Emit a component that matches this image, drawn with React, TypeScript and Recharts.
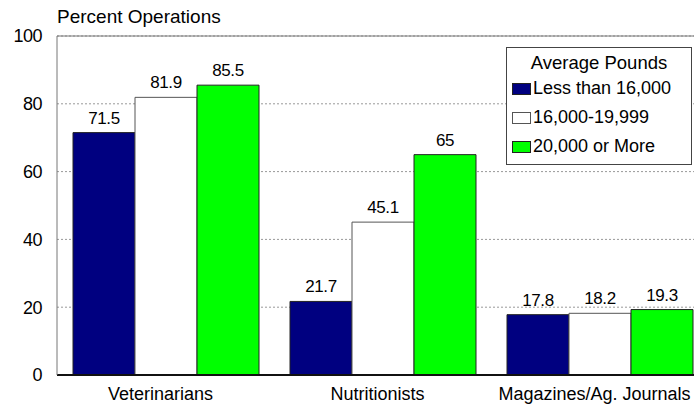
import { BarChart, Bar, XAxis, YAxis, CartesianGrid, Legend, LabelList, ReferenceLine } from 'recharts';

const categories = ['Veterinarians', 'Nutritionists', 'Magazines/Ag. Journals'];
const lessThan16k = [71.5, 21.7, 17.8];
const from16kTo19999 = [81.9, 45.1, 18.2];
const over20k = [85.5, 65, 19.3];
const yTicks = [0, 20, 40, 60, 80, 100];

const seriesInfo = [
  { key: 'low', name: 'Less than 16,000', fill: '#000080', stroke: '#222' },
  { key: 'mid', name: '16,000-19,999', fill: '#ffffff', stroke: '#555' },
  { key: 'high', name: '20,000 or More', fill: '#00ff00', stroke: '#222' },
];

const data = categories.map((name, i) => ({
  name,
  low: lessThan16k[i],
  mid: from16kTo19999[i],
  high: over20k[i],
}));

const FONT = '"Liberation Sans", Arial, sans-serif';

function LegendBox() {
  return (
    <div
      style={{
        border: '1px solid #444',
        background: '#fff',
        width: 186,
        height: 118,
        boxSizing: 'border-box',
        fontFamily: FONT,
        color: '#000',
        paddingTop: 4,
      }}
    >
      <div style={{ textAlign: 'center', fontSize: 18.5, lineHeight: '22px' }}>Average Pounds</div>
      {seriesInfo.map((s) => (
        <div key={s.key} style={{ display: 'flex', alignItems: 'center', height: 29, paddingLeft: 5 }}>
          <span
            style={{
              display: 'inline-block',
              width: 19,
              height: 12,
              background: s.fill,
              border: `1px solid ${s.stroke}`,
              boxSizing: 'border-box',
              marginRight: 2,
            }}
          />
          <span style={{ fontSize: 18 }}>{s.name}</span>
        </div>
      ))}
    </div>
  );
}

export default function App() {
  return (
    <div
      style={{
        position: 'fixed',
        left: 0,
        top: 0,
        width: 694,
        height: 404,
        overflow: 'hidden',
        background: '#fff',
        fontFamily: FONT,
      }}
    >
      <div style={{ position: 'absolute', left: 57, top: 6, fontSize: 19, color: '#000' }}>
        Percent Operations
      </div>
      <BarChart
        width={720}
        height={404}
        data={data}
        margin={{ top: 36, right: 12, left: 0, bottom: 0 }}
        barCategoryGap={16}
        barGap={0}
      >
        <CartesianGrid vertical={false} strokeDasharray="2 2" stroke="#999" />
        <XAxis
          dataKey="name"
          height={29}
          tickSize={0}
          tickMargin={12}
          axisLine={{ stroke: '#111', strokeWidth: 2 }}
          tick={{ fontSize: 18, fill: '#000', dx: -5 }}
        />
        <YAxis
          width={57}
          domain={[0, 100]}
          ticks={yTicks}
          tickSize={0}
          tickMargin={15}
          axisLine={{ stroke: '#777' }}
          tick={{ fontSize: 18, fill: '#000', letterSpacing: -0.5 }}
        />
        <ReferenceLine y={100} stroke="#777" />
        <Legend
          layout="horizontal"
          verticalAlign="middle"
          align="center"
          wrapperStyle={{ position: 'absolute', left: 506, top: 47, width: 186, height: 118 }}
          content={() => <LegendBox />}
        />
        {seriesInfo.map((s) => (
          <Bar
            key={s.key}
            dataKey={s.key}
            name={s.name}
            fill={s.fill}
            stroke={s.stroke}
            strokeWidth={1}
            isAnimationActive={false}
          >
            <LabelList
              dataKey={s.key}
              position="top"
              offset={9}
              fill="#000"
              fontSize={17}
              style={{ letterSpacing: -0.4 }}
            />
          </Bar>
        ))}
      </BarChart>
    </div>
  );
}
